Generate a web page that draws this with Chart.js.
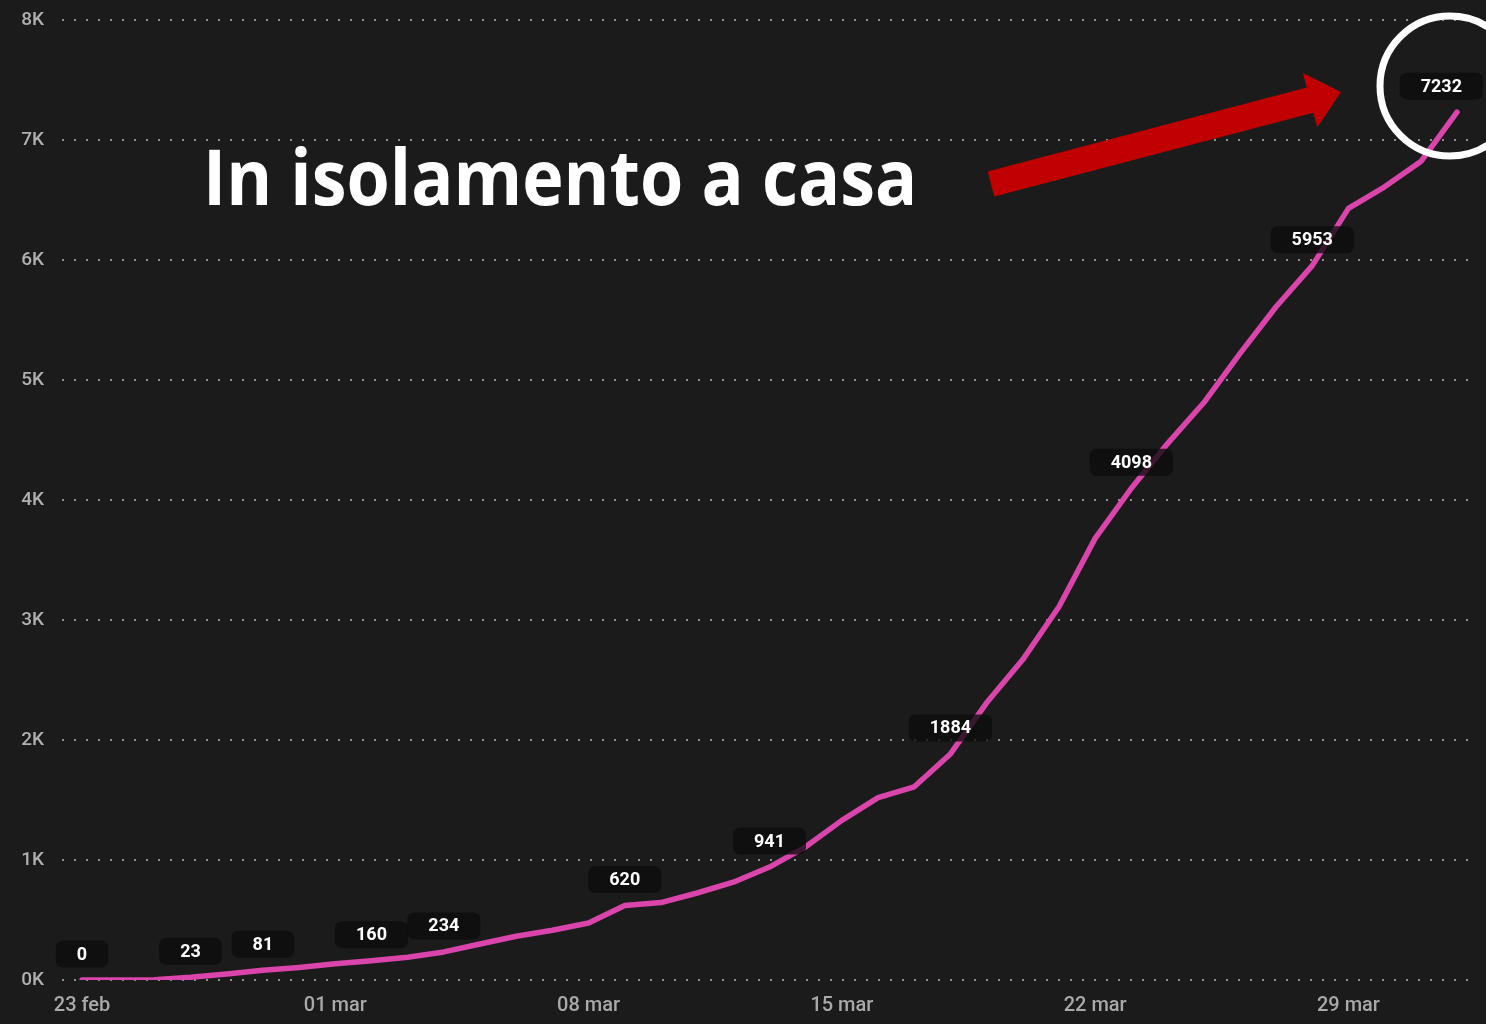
<!DOCTYPE html>
<html lang="it">
<head>
<meta charset="utf-8">
<script src="https://cdn.jsdelivr.net/npm/chart.js@4.4.1/dist/chart.umd.min.js"></script>
<style>
  html, body { margin: 0; padding: 0; background: #1b1b1b; }
  #wrap { width: 1486px; height: 1024px; }
</style>
</head>
<body>
<div id="wrap"><canvas id="grafico" width="1486" height="1024"></canvas></div>
<script>
// --- dati ---
const giorni = [
  '23 feb', '24 feb', '25 feb', '26 feb', '27 feb', '28 feb', '29 feb',
  '01 mar', '02 mar', '03 mar', '04 mar', '05 mar', '06 mar', '07 mar',
  '08 mar', '09 mar', '10 mar', '11 mar', '12 mar', '13 mar', '14 mar',
  '15 mar', '16 mar', '17 mar', '18 mar', '19 mar', '20 mar', '21 mar',
  '22 mar', '23 mar', '24 mar', '25 mar', '26 mar', '27 mar', '28 mar',
  '29 mar', '30 mar', '31 mar', '01 apr'
];
const isolamento = [
  0, 0, 3, 23, 50, 81, 105,
  135, 160, 190, 234, 300, 365, 415,
  475, 620, 645, 725, 815, 941, 1110,
  1330, 1520, 1610, 1884, 2310, 2670, 3110,
  3680, 4098, 4470, 4810, 5220, 5610, 5953,
  6430, 6610, 6820, 7232
];
const indiciEtichette = [0, 3, 5, 8, 10, 15, 19, 24, 29, 34, 38];
const tickGiorni = [0, 7, 14, 21, 28, 35];
const tickValori = [0, 1000, 2000, 3000, 4000, 5000, 6000, 7000, 8000];
const titolo = 'In isolamento a casa';

// etichette scure sopra i punti
const etichette = {
  id: 'etichette',
  afterDatasetsDraw(chart) {
    const ctx = chart.ctx;
    const meta = chart.getDatasetMeta(0);
    ctx.save();
    ctx.font = 'bold 18px Roboto';
    ctx.textAlign = 'center';
    ctx.textBaseline = 'middle';
    indiciEtichette.forEach(i => {
      const p = meta.data[i];
      const testo = String(isolamento[i]);
      const w = ctx.measureText(testo).width + 42;
      const h = 27;
      const cx = Math.min(p.x, chart.width - 3 - w / 2);
      const cy = p.y - 26;
      ctx.fillStyle = 'rgba(12,12,12,0.78)';
      ctx.beginPath();
      ctx.roundRect(cx - w / 2, cy - h / 2, w, h, 7);
      ctx.fill();
      ctx.fillStyle = '#ffffff';
      ctx.fillText(testo, cx, cy + 1);
    });
    ctx.restore();
  }
};

// titolo, freccia rossa e cerchio bianco
const annotazioni = {
  id: 'annotazioni',
  afterDraw(chart) {
    const ctx = chart.ctx;
    ctx.save();

    // titolo grande
    ctx.fillStyle = '#ffffff';
    ctx.textBaseline = 'alphabetic';
    ctx.textAlign = 'left';
    ctx.font = 'bold 100px "Open Sans"';
    const size = 100 * 714 / ctx.measureText(titolo).width;
    ctx.font = 'bold ' + size.toFixed(1) + 'px "Open Sans"';
    ctx.save();
    ctx.translate(203, 205);
    ctx.scale(1, 1.1);
    ctx.fillText(titolo, 0, 0);
    ctx.restore();

    // freccia
    const S = { x: 991, y: 184 };
    const T = { x: 1341, y: 92 };
    const len = Math.hypot(T.x - S.x, T.y - S.y);
    const u = { x: (T.x - S.x) / len, y: (T.y - S.y) / len };
    const n = { x: -u.y, y: u.x };
    const hl = 32, sw = 13, hw = 28;
    const H = { x: T.x - u.x * hl, y: T.y - u.y * hl };
    const pt = (b, k) => [b.x + n.x * k, b.y + n.y * k];
    const poly = [pt(S, sw), pt(S, -sw), pt(H, -sw), pt(H, -hw), [T.x, T.y], pt(H, hw), pt(H, sw)];
    ctx.fillStyle = '#c00000';
    ctx.beginPath();
    poly.forEach((p, i) => i ? ctx.lineTo(p[0], p[1]) : ctx.moveTo(p[0], p[1]));
    ctx.closePath();
    ctx.fill();

    // cerchio attorno all'ultimo valore
    ctx.strokeStyle = '#ffffff';
    ctx.lineWidth = 7;
    ctx.beginPath();
    ctx.arc(1450, 86, 70, 0, Math.PI * 2);
    ctx.stroke();

    ctx.restore();
  }
};

const ctx = document.getElementById('grafico').getContext('2d');
new Chart(ctx, {
  type: 'line',
  data: {
    datasets: [{
      data: isolamento.map((v, i) => ({ x: i, y: v })),
      borderColor: '#da45ab',
      borderWidth: 5.5,
      pointRadius: 0,
      tension: 0,
      borderJoinStyle: 'round',
      borderCapStyle: 'round'
    }]
  },
  options: {
    responsive: false,
    animation: false,
    devicePixelRatio: 1,
    layout: { padding: { top: 20, right: 18, left: 0, bottom: 0 } },
    plugins: {
      legend: { display: false },
      tooltip: { enabled: false }
    },
    scales: {
      x: {
        type: 'linear',
        min: -0.553,
        max: 38.304,
        afterFit: (s) => { s.height = 44; s.paddingLeft = 0; s.paddingRight = 0; },
        afterBuildTicks: (s) => { s.ticks = tickGiorni.map(v => ({ value: v })); },
        grid: { display: false, drawTicks: false },
        border: { display: false },
        ticks: {
          autoSkip: false,
          maxRotation: 0,
          padding: 14,
          color: '#a9a9a9',
          font: { family: 'Roboto', size: 20, weight: '500' },
          callback: (v) => giorni[v]
        }
      },
      y: {
        min: 0,
        max: 8000,
        afterFit: (s) => { s.width = 62; s.paddingTop = 0; s.paddingBottom = 0; },
        afterBuildTicks: (s) => { s.ticks = tickValori.map(v => ({ value: v })); },
        grid: {
          color: '#8f8f8f',
          lineWidth: 2,
          drawTicks: false
        },
        border: { display: false, dash: [2, 10] },
        ticks: {
          padding: 18,
          color: '#b0b0b0',
          font: { family: 'Roboto', size: 19, weight: '500' },
          callback: (v) => (v / 1000) + 'K'
        }
      }
    }
  },
  plugins: [etichette, annotazioni]
});
</script>
</body>
</html>
